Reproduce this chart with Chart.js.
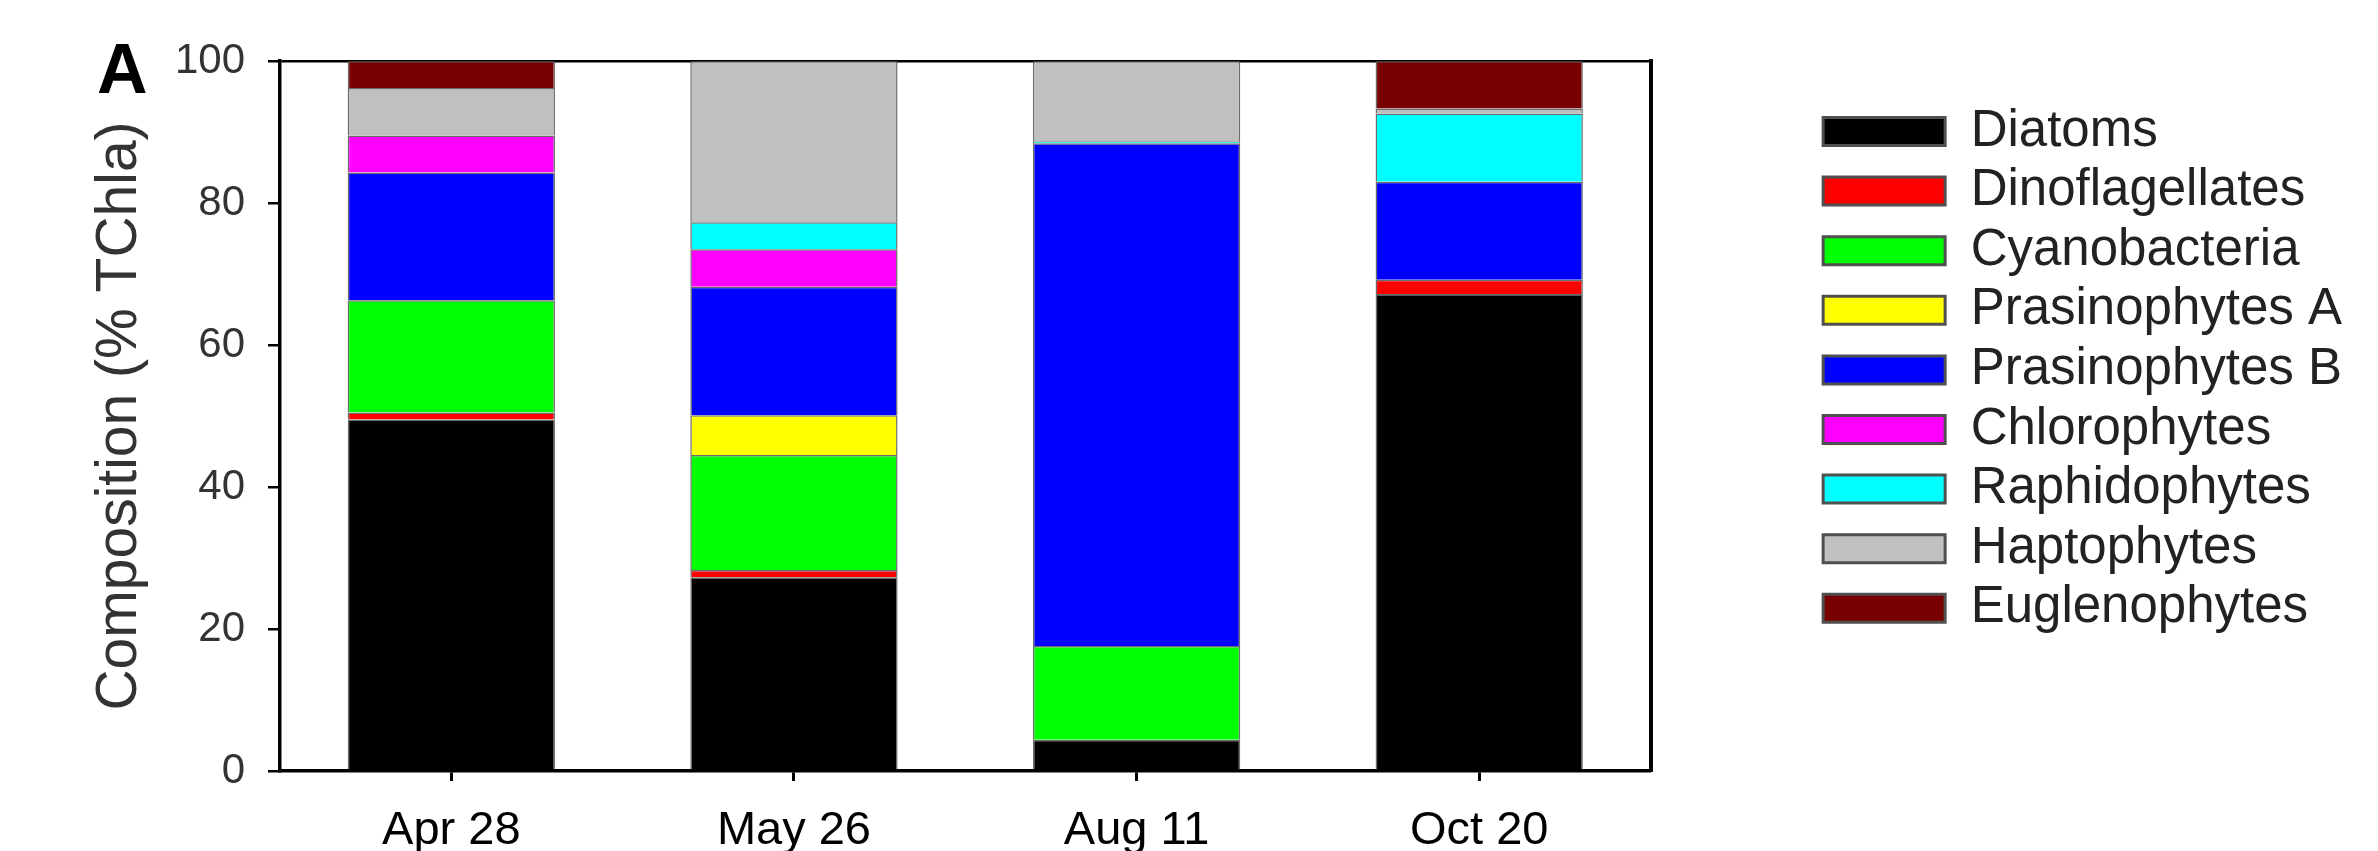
<!DOCTYPE html>
<html>
<head>
<meta charset="utf-8">
<script src="https://cdn.jsdelivr.net/npm/chart.js@4"></script>
<style>
  html, body { margin: 0; padding: 0; background: #fff; }
  #wrap { position: relative; width: 2378px; height: 851px; }
</style>
</head>
<body>
<div id="wrap"><canvas id="chart"></canvas></div>
<script>
const FONT = '"Liberation Sans", Arial, Helvetica, sans-serif';

// sampling dates
const categories = ['Apr 28', 'May 26', 'Aug 11', 'Oct 20'];

// % of TChla per group (null = absent)
const diatoms        = [49.5, 27.3, 4.4, 67.2];
const dinoflagellates = [1.0, 1.0, null, 2.0];
const cyanobacteria  = [15.8, 16.2, 13.2, null];
const prasinophytesA = [null, 5.6, null, null];
const prasinophytesB = [18.0, 18.1, 70.8, 13.8];
const chlorophytes   = [5.2, 5.3, null, null];
const raphidophytes  = [null, 3.8, 0.3, 9.6];
const haptophytes    = [6.7, 22.7, 11.3, 0.7];
const euglenophytes  = [3.8, null, null, 6.7];

const yTicks = [0, 20, 40, 60, 80, 100];

const groups = [
  ['Diatoms', diatoms, '#000000'],
  ['Dinoflagellates', dinoflagellates, '#ff0000'],
  ['Cyanobacteria', cyanobacteria, '#00ff00'],
  ['Prasinophytes A', prasinophytesA, '#ffff00'],
  ['Prasinophytes B', prasinophytesB, '#0000ff'],
  ['Chlorophytes', chlorophytes, '#ff00ff'],
  ['Raphidophytes', raphidophytes, '#00ffff'],
  ['Haptophytes', haptophytes, '#c0c0c0'],
  ['Euglenophytes', euglenophytes, '#780000']
];

const datasets = groups.map(([label, data, color]) => ({
  label,
  data,
  backgroundColor: color,
  borderColor: 'rgba(70, 70, 70, 0.8)',
  borderWidth: 1.5,
  barPercentage: 0.605,
  categoryPercentage: 1.0
}));

// panel letter in the top-left corner
const panelLetter = {
  id: 'panelLetter',
  afterDraw(chart) {
    const ctx = chart.ctx;
    ctx.save();
    ctx.font = `bold 70px ${FONT}`;
    ctx.fillStyle = '#000';
    ctx.textBaseline = 'alphabetic';
    ctx.fillText('A', 97, 93);
    ctx.restore();
  }
};

new Chart(document.getElementById('chart'), {
  type: 'bar',
  data: { labels: categories, datasets },
  plugins: [panelLetter],
  options: {
    responsive: true,
    maintainAspectRatio: false,
    animation: false,
    layout: { padding: { top: 61, left: 0, right: 26, bottom: 0 } },
    plugins: {
      tooltip: { enabled: false },
      legend: {
        position: 'right',
        align: 'start',
        maxWidth: 700,
        title: { display: true, text: '', padding: { top: 22, bottom: 0 } },
        labels: {
          color: '#222',
          font: { family: FONT, size: 51 },
          boxWidth: 122,
          boxHeight: 28,
          padding: 8.6,
          generateLabels: (chart) =>
            Chart.defaults.plugins.legend.labels.generateLabels(chart).map(item => ({
              ...item,
              lineWidth: 3,
              strokeStyle: '#505050'
            }))
        }
      }
    },
    scales: {
      x: {
        stacked: true,
        grid: {
          display: true,
          offset: false,
          drawOnChartArea: false,
          drawTicks: true,
          tickLength: 10,
          tickColor: '#000',
          tickWidth: 3
        },
        border: { display: true, color: '#000', width: 3.5 },
        ticks: {
          color: '#000',
          font: { family: FONT, size: 47 },
          padding: 22,
          maxRotation: 0
        },
        afterFit: (scale) => { scale.height = 80; }
      },
      y: {
        stacked: true,
        min: 0,
        max: 100,
        afterBuildTicks: (scale) => { scale.ticks = yTicks.map(v => ({ value: v })); },
        grid: {
          color: (ctx) => (ctx.tick && ctx.tick.value === 100 ? '#000' : 'rgba(0,0,0,0)'),
          lineWidth: 2.5,
          drawTicks: true,
          tickLength: 12,
          tickColor: '#000',
          tickWidth: 2.5
        },
        border: { display: true, color: '#000', width: 3.5 },
        ticks: {
          color: '#333',
          font: { family: FONT, size: 42 },
          padding: 23
        },
        title: {
          display: true,
          text: 'Composition (% TChla)',
          color: '#333',
          font: { family: FONT, size: 57 },
          padding: { top: 86, bottom: 0 }
        },
        afterFit: (scale) => { scale.width = 280; }
      },
      yR: {
        position: 'right',
        min: 0,
        max: 100,
        display: true,
        ticks: { display: false },
        grid: { display: false, drawTicks: false },
        border: { display: true, color: '#000', width: 4 },
        afterFit: (scale) => { scale.width = 164; }
      }
    }
  }
});
</script>
</body>
</html>
